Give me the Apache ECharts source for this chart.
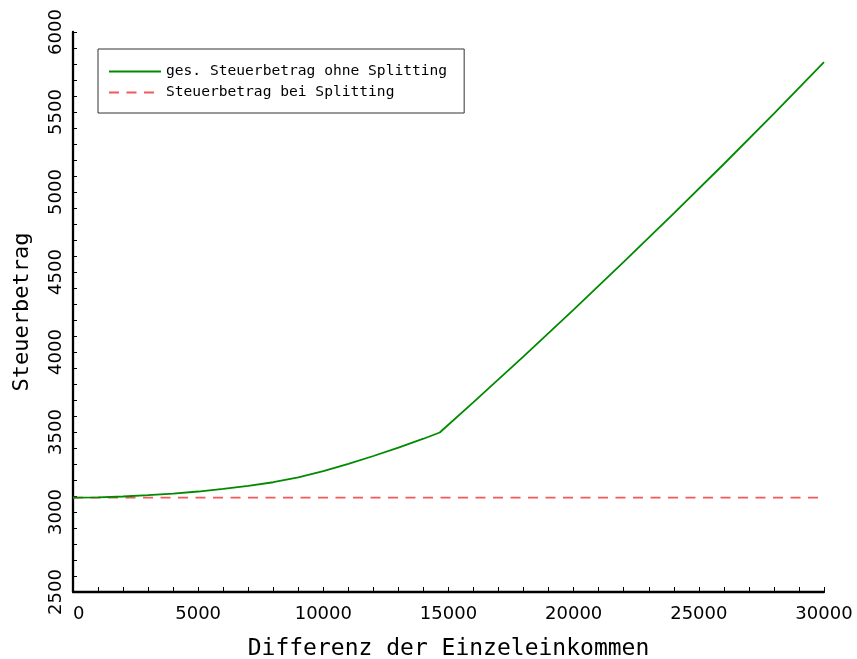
<!DOCTYPE html>
<html>
<head>
<meta charset="utf-8">
<script src="https://cdn.jsdelivr.net/npm/echarts@6/dist/echarts.min.js"></script>
<style>
  html, body { margin: 0; padding: 0; background: #fff; }
  #chart { width: 857px; height: 659px; }
</style>
</head>
<body>
<div id="chart"></div>
<script>
// Difference between the two single incomes (x) and resulting total tax (y)
const einkommensDifferenz = [0, 1000, 2000, 3000, 4000, 5000, 6000, 7000, 8000, 9000, 10000,
  11000, 12000, 13000, 14000, 14650, 16000, 18000, 20000, 22000, 24000, 26000, 28000, 30000];
const steuerOhneSplitting = [3090, 3092, 3097, 3105, 3115, 3128, 3145, 3163, 3186, 3216, 3256,
  3301, 3350, 3402, 3458, 3497, 3687, 3973, 4265, 4563, 4866, 5175, 5490, 5811];

// Splitting tax does not depend on the income difference
const splittingDifferenz = [0, 30000];
const steuerMitSplitting = [3090, 3090];

const seriesNames = ['ges. Steuerbetrag ohne Splitting', 'Steuerbetrag bei Splitting'];
const xTitle = 'Differenz der Einzeleinkommen';
const yTitle = 'Steuerbetrag';

const pairs = (xs, ys) => xs.map((x, i) => [x, ys[i]]);
const plain = v => String(v);

const chart = echarts.init(document.getElementById('chart'), null, { renderer: 'canvas' });

const monoFont = 'DejaVu Sans Mono';
const numFont = 'DejaVu Sans';
const plotRect = { left: 73, right: 33, top: 32, bottom: 67, containLabel: false, outerBoundsMode: 'none' };

chart.setOption({
  animation: false,
  backgroundColor: '#fff',
  // second grid shares the plot rectangle and only carries the rotated y tick labels
  grid: [Object.assign({}, plotRect), Object.assign({}, plotRect)],
  legend: {
    orient: 'vertical',
    left: 98,
    top: 49,
    itemWidth: 52,
    itemHeight: 14,
    itemGap: 6,
    itemTextGap: 12,
    padding: [15, 17, 13, 10],
    borderColor: '#333',
    borderWidth: 1,
    backgroundColor: '#fff',
    itemStyle: { opacity: 0 },
    textStyle: { fontFamily: monoFont, fontSize: 14.6, color: '#000' },
    data: seriesNames
  },
  xAxis: [
    {
      gridIndex: 0,
      type: 'value',
      min: 0,
      max: 30000,
      interval: 5000,
      name: xTitle,
      nameLocation: 'middle',
      nameGap: 46,
      nameMoveOverlap: false,
      nameTextStyle: { fontFamily: monoFont, fontSize: 23, color: '#000' },
      axisLine: { show: true, onZero: false, lineStyle: { color: '#000', width: 2.3 } },
      axisTick: { show: true, inside: true, length: 5, lineStyle: { color: '#000', width: 1 } },
      minorTick: { show: true, splitNumber: 5, length: 5, lineStyle: { color: '#000', width: 1 } },
      splitLine: { show: false },
      axisLabel: {
        fontFamily: numFont, fontSize: 18, color: '#000', margin: 13,
        alignMinLabel: 'left', formatter: plain
      }
    },
    {
      gridIndex: 1,
      type: 'value',
      min: 0,
      max: 30000,
      show: false
    }
  ],
  yAxis: [
    {
      gridIndex: 0,
      type: 'value',
      min: 2500,
      max: 6000,
      interval: 500,
      name: yTitle,
      nameLocation: 'middle',
      nameRotate: 90,
      nameGap: 40,
      nameMoveOverlap: false,
      nameTextStyle: { fontFamily: monoFont, fontSize: 22, color: '#000' },
      axisLine: { show: true, onZero: false, lineStyle: { color: '#000', width: 2.3 } },
      axisTick: { show: true, inside: true, length: 4, lineStyle: { color: '#000', width: 1 } },
      minorTick: { show: true, splitNumber: 5, length: 4, lineStyle: { color: '#000', width: 1 } },
      splitLine: { show: false },
      axisLabel: { show: false }
    },
    {
      gridIndex: 1,
      type: 'value',
      min: 2500,
      max: 6000,
      interval: 500,
      axisLine: { show: false, onZero: false },
      axisTick: { show: false },
      minorTick: { show: false },
      splitLine: { show: false },
      axisLabel: { fontFamily: numFont, fontSize: 18, color: '#000', rotate: 90, margin: 8, formatter: plain }
    }
  ],
  series: [
    {
      name: seriesNames[0],
      type: 'line',
      xAxisIndex: 0,
      yAxisIndex: 0,
      data: pairs(einkommensDifferenz, steuerOhneSplitting),
      symbol: 'none',
      smooth: false,
      lineStyle: { color: '#008a00', width: 1.8 },
      itemStyle: { color: '#008a00' },
      z: 3
    },
    {
      name: seriesNames[1],
      type: 'line',
      xAxisIndex: 0,
      yAxisIndex: 0,
      data: pairs(splittingDifferenz, steuerMitSplitting),
      symbol: 'none',
      lineStyle: { color: '#f05a5a', width: 1.6, type: [10, 7.5] },
      itemStyle: { color: '#f05a5a' },
      z: 2
    }
  ]
});
</script>
</body>
</html>
